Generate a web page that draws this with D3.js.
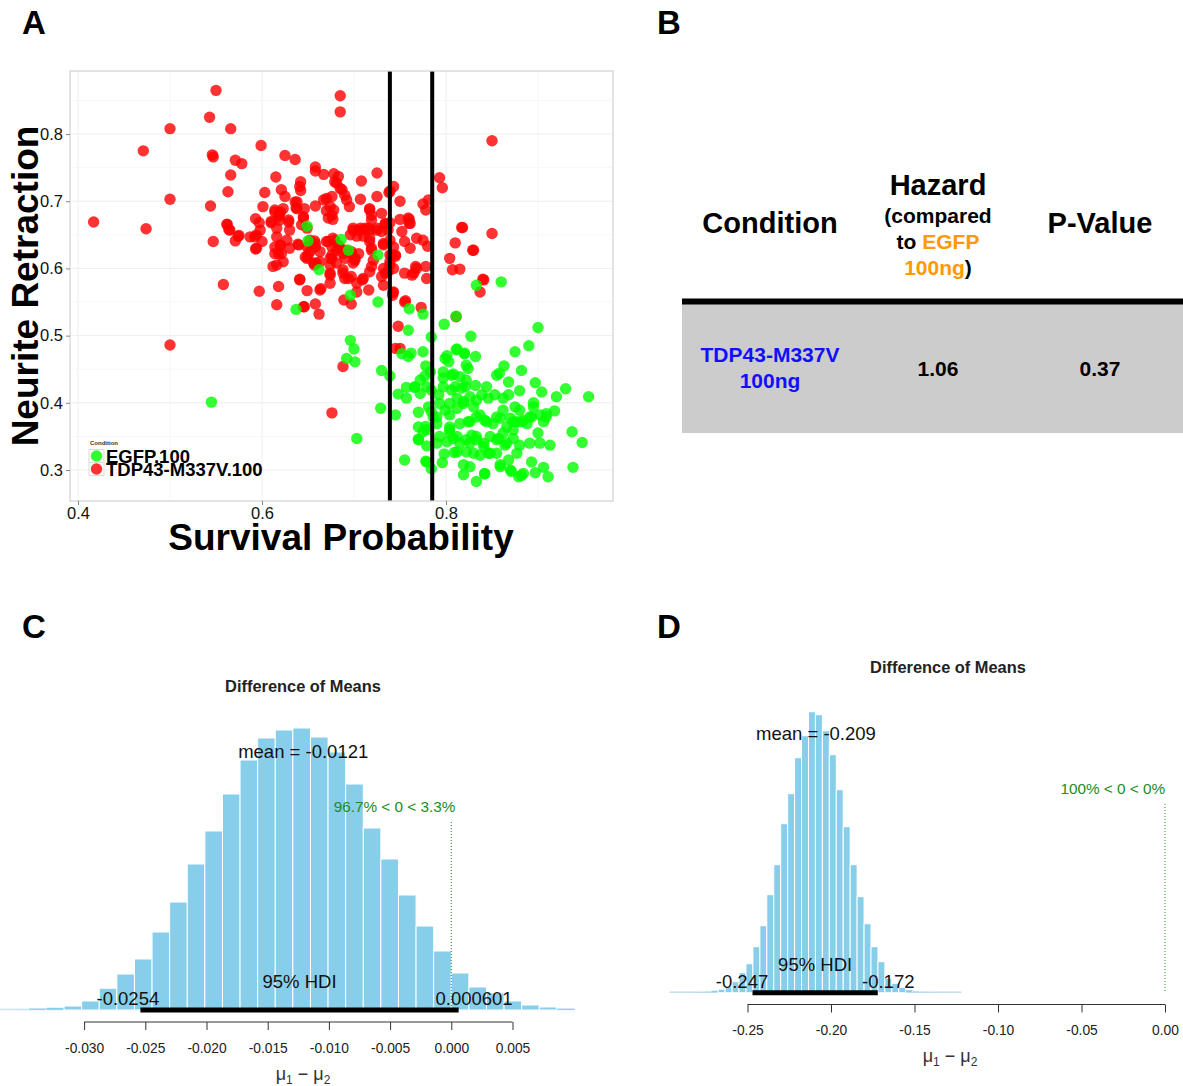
<!DOCTYPE html>
<html lang="en">
<head>
<meta charset="utf-8"/>
<title>Survival / neurite retraction figure</title>
<script src="https://cdn.jsdelivr.net/npm/d3@7/dist/d3.min.js"></script>
<style>
  body { margin: 0; background: #fff; }
  svg { font-family: "Liberation Sans", Arial, Helvetica, sans-serif; }
</style>
</head>
<body>
<div id="fig"></div>
<script>
// ---------- panel A data (survival probability, neurite retraction) ----------
const redPts = [
 [0.550,0.865],[0.543,0.825],[0.500,0.808],[0.566,0.808],[0.471,0.775],[0.599,0.783],[0.546,0.769],[0.547,0.766],[0.571,0.761],[0.578,0.756],
 [0.625,0.768],[0.636,0.762],[0.566,0.739],[0.500,0.703],[0.563,0.714],[0.417,0.669],[0.474,0.659],[0.544,0.693],[0.547,0.640],[0.562,0.666],
 [0.564,0.658],[0.575,0.649],[0.571,0.641],[0.587,0.647],[0.594,0.650],[0.598,0.657],[0.600,0.640],[0.593,0.629],[0.615,0.736],[0.603,0.713],
 [0.601,0.692],[0.621,0.717],[0.625,0.707],[0.593,0.674],[0.597,0.668],[0.610,0.668],[0.614,0.684],[0.619,0.680],[0.619,0.672],[0.616,0.660],
 [0.629,0.669],[0.630,0.657],[0.642,0.729],[0.641,0.722],[0.642,0.716],[0.638,0.699],[0.637,0.690],[0.646,0.689],[0.645,0.677],[0.658,0.751],
 [0.658,0.745],[0.667,0.740],[0.658,0.693],[0.667,0.702],[0.670,0.704],[0.676,0.707],[0.670,0.686],[0.676,0.679],[0.678,0.741],[0.683,0.737],
 [0.685,0.857],[0.685,0.833],[0.639,0.636],[0.627,0.642],[0.616,0.647],[0.620,0.635],[0.618,0.622],[0.614,0.622],[0.630,0.630],[0.641,0.584],
 [0.649,0.615],[0.652,0.625],[0.658,0.632],[0.663,0.625],[0.657,0.641],[0.672,0.640],[0.679,0.642],[0.683,0.635],[0.676,0.620],[0.663,0.610],
 [0.674,0.605],[0.657,0.605],[0.558,0.576],[0.597,0.566],[0.618,0.573],[0.616,0.546],[0.649,0.567],[0.664,0.570],[0.646,0.543],[0.658,0.547],
 [0.662,0.532],[0.500,0.486],[0.676,0.385],[0.688,0.454],[0.850,0.790],[0.793,0.735],[0.796,0.720],[0.818,0.661],[0.850,0.652],[0.810,0.638],
 [0.829,0.627],[0.804,0.615],[0.807,0.598],[0.815,0.599],[0.840,0.584],[0.725,0.742],[0.708,0.730],[0.743,0.722],[0.738,0.713],[0.725,0.707],
 [0.707,0.703],[0.750,0.700],[0.775,0.696],[0.781,0.702],[0.778,0.687],[0.679,0.729],[0.685,0.719],[0.690,0.709],[0.692,0.702],[0.695,0.692],
 [0.717,0.689],[0.719,0.679],[0.730,0.682],[0.750,0.673],[0.760,0.673],[0.760,0.667],[0.734,0.666],[0.739,0.668],[0.699,0.657],[0.705,0.657],
 [0.710,0.657],[0.716,0.660],[0.725,0.657],[0.730,0.655],[0.717,0.640],[0.719,0.627],[0.732,0.635],[0.752,0.655],[0.755,0.640],[0.761,0.630],
 [0.768,0.645],[0.775,0.642],[0.780,0.633],[0.739,0.620],[0.745,0.620],[0.739,0.605],[0.717,0.595],[0.734,0.593],[0.755,0.593],[0.763,0.590],
 [0.768,0.600],[0.778,0.603],[0.779,0.585],[0.674,0.593],[0.690,0.585],[0.710,0.585],[0.656,0.608],[0.676,0.615],[0.688,0.598],[0.696,0.650],
 [0.703,0.648],[0.710,0.648],[0.697,0.625],[0.701,0.612],[0.705,0.622],[0.721,0.612],[0.685,0.630],[0.681,0.727],[0.739,0.715],[0.687,0.717],
 [0.674,0.692],[0.678,0.687],[0.636,0.699],[0.638,0.689],[0.672,0.675],[0.677,0.673],[0.645,0.675],[0.643,0.665],[0.649,0.660],[0.614,0.687],
 [0.620,0.684],[0.618,0.677],[0.623,0.689],[0.629,0.672],[0.610,0.670],[0.562,0.665],[0.565,0.657],[0.574,0.648],[0.592,0.647],[0.594,0.630],
 [0.614,0.632],[0.620,0.634],[0.621,0.622],[0.640,0.635],[0.649,0.632],[0.652,0.642],[0.658,0.637],[0.650,0.620],[0.647,0.617],[0.659,0.608],
 [0.670,0.640],[0.677,0.645],[0.676,0.632],[0.681,0.627],[0.688,0.622],[0.692,0.627],[0.674,0.615],[0.681,0.608],[0.690,0.615],[0.697,0.622],
 [0.701,0.615],[0.699,0.608],[0.699,0.660],[0.707,0.660],[0.712,0.660],[0.717,0.657],[0.725,0.660],[0.737,0.657],[0.734,0.667],[0.717,0.687],
 [0.719,0.672],[0.717,0.645],[0.719,0.630],[0.732,0.637],[0.739,0.642],[0.743,0.632],[0.741,0.620],[0.745,0.618],[0.739,0.610],[0.743,0.600],
 [0.732,0.600],[0.737,0.595],[0.719,0.603],[0.730,0.588],[0.732,0.575],[0.759,0.675],[0.761,0.667],[0.767,0.603],[0.765,0.593],[0.743,0.565],
 [0.742,0.560],[0.755,0.550],[0.773,0.542],[0.748,0.514],[0.709,0.583],[0.703,0.578],[0.716,0.568],[0.688,0.593],[0.694,0.585],[0.697,0.588],
 [0.674,0.590],[0.674,0.578],[0.663,0.568],[0.641,0.583],[0.645,0.543],[0.689,0.553],[0.697,0.547],[0.703,0.565],[0.616,0.605],[0.623,0.610],
 [0.612,0.603],[0.837,0.565],[0.841,0.583],[0.817,0.661],[0.830,0.627],[0.811,0.528],[0.745,0.481],[0.750,0.481],[0.756,0.552],[0.742,0.564]
];
const greenPts = [
 [0.649,0.663],[0.650,0.641],[0.662,0.598],[0.686,0.643],[0.694,0.627],[0.726,0.620],[0.637,0.539],[0.545,0.401],[0.860,0.580],[0.833,0.575],
 [0.696,0.560],[0.726,0.550],[0.760,0.540],[0.775,0.532],[0.811,0.529],[0.798,0.517],[0.759,0.508],[0.784,0.498],[0.827,0.499],[0.900,0.512],
 [0.696,0.493],[0.700,0.480],[0.692,0.466],[0.701,0.461],[0.752,0.473],[0.759,0.469],[0.762,0.474],[0.775,0.476],[0.801,0.470],[0.803,0.461],
 [0.812,0.480],[0.820,0.473],[0.832,0.469],[0.822,0.456],[0.824,0.451],[0.875,0.476],[0.890,0.485],[0.730,0.448],[0.739,0.440],[0.778,0.455],
 [0.783,0.446],[0.797,0.446],[0.808,0.443],[0.815,0.439],[0.822,0.434],[0.821,0.424],[0.832,0.426],[0.863,0.455],[0.855,0.441],[0.858,0.444],
 [0.868,0.431],[0.882,0.448],[0.897,0.430],[0.930,0.421],[0.955,0.409],[0.920,0.409],[0.904,0.416],[0.880,0.418],[0.748,0.413],[0.757,0.423],
 [0.757,0.407],[0.766,0.423],[0.772,0.414],[0.784,0.419],[0.792,0.412],[0.797,0.424],[0.806,0.419],[0.812,0.407],[0.804,0.399],[0.819,0.402],
 [0.830,0.394],[0.839,0.412],[0.844,0.424],[0.846,0.407],[0.853,0.412],[0.862,0.407],[0.868,0.412],[0.875,0.394],[0.880,0.389],[0.895,0.400],
 [0.902,0.382],[0.909,0.384],[0.918,0.388],[0.729,0.392],[0.745,0.382],[0.770,0.386],[0.781,0.394],[0.784,0.387],[0.790,0.379],[0.770,0.364],
 [0.778,0.365],[0.775,0.357],[0.804,0.364],[0.815,0.369],[0.824,0.372],[0.833,0.379],[0.842,0.374],[0.851,0.369],[0.859,0.377],[0.866,0.364],
 [0.873,0.372],[0.882,0.372],[0.888,0.369],[0.893,0.379],[0.906,0.372],[0.909,0.379],[0.703,0.347],[0.770,0.346],[0.779,0.336],[0.790,0.340],
 [0.793,0.350],[0.804,0.355],[0.812,0.350],[0.815,0.340],[0.822,0.345],[0.828,0.352],[0.833,0.350],[0.841,0.340],[0.848,0.350],[0.857,0.347],
 [0.864,0.337],[0.873,0.347],[0.880,0.337],[0.891,0.340],[0.900,0.355],[0.902,0.340],[0.913,0.337],[0.937,0.357],[0.948,0.341],[0.755,0.315],
 [0.778,0.313],[0.784,0.302],[0.796,0.311],[0.798,0.324],[0.809,0.326],[0.819,0.293],[0.833,0.283],[0.842,0.294],[0.859,0.305],[0.870,0.300],
 [0.879,0.290],[0.884,0.295],[0.893,0.312],[0.897,0.296],[0.906,0.304],[0.911,0.290],[0.938,0.304],[0.812,0.327],[0.822,0.327],[0.837,0.322],
 [0.846,0.325],[0.855,0.325],[0.868,0.315],[0.877,0.325],[0.779,0.312],[0.766,0.424],[0.779,0.424],[0.777,0.440],[0.772,0.434],[0.779,0.360],
 [0.770,0.345],[0.811,0.479],[0.820,0.474],[0.799,0.466],[0.797,0.437],[0.806,0.441],[0.810,0.424],[0.817,0.422],[0.826,0.409],[0.833,0.404],
 [0.819,0.399],[0.812,0.392],[0.804,0.382],[0.826,0.372],[0.837,0.382],[0.844,0.372],[0.855,0.379],[0.862,0.389],[0.870,0.377],[0.877,0.372],
 [0.873,0.360],[0.862,0.355],[0.855,0.345],[0.866,0.340],[0.884,0.374],[0.891,0.379],[0.895,0.394],[0.826,0.340],[0.833,0.345],[0.841,0.335],
 [0.848,0.325],[0.830,0.325],[0.804,0.360],[0.808,0.347],[0.801,0.342],[0.786,0.379],[0.790,0.369],[0.819,0.308],[0.826,0.305],[0.842,0.295],
 [0.859,0.308],[0.871,0.298],[0.882,0.292],[0.793,0.399],[0.799,0.389]
];
const cutoffs = [0.739, 0.785];
const xTicksA = [0.4, 0.6, 0.8];
const yTicksA = [0.3, 0.4, 0.5, 0.6, 0.7, 0.8];
const legendA = [["EGFP.100", "#00ff00"], ["TDP43-M337V.100", "#ff0000"]];

// ---------- panel B table ----------
const tableRow = { condition: ["TDP43-M337V", "100ng"], hazard: "1.06", pvalue: "0.37" };

// ---------- panels C and D: posterior of difference of means ----------
const binStartC = -0.03739, binWidthC = 0.001438;
const countsC = [4,8,17,23,40,90,217,360,510,780,1080,1460,1790,2160,2500,2720,2800,2820,2730,2580,
                 2260,1820,1510,1150,840,590,370,230,170,90,50,30,15];
const hdiC = [-0.0254, 0.000601], meanC = -0.0121, pctC = "96.7% < 0 < 3.3%", pctAdjC = 0.967;
const xTicksC = [-0.030, -0.025, -0.020, -0.015, -0.010, -0.005, 0.000, 0.005];

const binStartD = -0.29668, binWidthD = 0.00416;
const countsD = [3,3,4,5,8,12,20,35,60,110,200,290,460,670,980,1280,1690,1990,2350,2570,2810,2780,
                 2620,2380,2030,1660,1280,960,690,460,310,144,94,54,27,15,10,7,5,4,3,3];
const hdiD = [-0.247, -0.172], meanD = -0.209, pctD = "100% < 0 < 0%", pctAdjD = 1.0;
const xTicksD = [-0.25, -0.20, -0.15, -0.10, -0.05, 0.00];

const svg = d3.select("#fig").append("svg")
  .attr("width", 1183).attr("height", 1086);

// panel letters
[["A", 22, 34], ["B", 657, 34], ["C", 22, 638], ["D", 657, 638]].forEach(([t, x, y]) => {
  svg.append("text").attr("x", x).attr("y", y).attr("font-size", 33)
    .attr("font-weight", "bold").text(t);
});

// R style numbers: plain hyphen for minus
const hyph = f => d => f(d).replace("\u2212", "-");

// ================= Panel A =================
(function panelA() {
  const left = 70, right = 613, top = 71, bottom = 501;
  const x = d3.scaleLinear().domain([0.3913, 0.9815]).range([left, right]);
  const y = d3.scaleLinear().domain([0.2539, 0.8938]).range([bottom, top]);
  const g = svg.append("g");

  // grid
  const minorX = [0.5, 0.7, 0.9], minorY = [0.35, 0.45, 0.55, 0.65, 0.75, 0.85];
  g.selectAll(".mgx").data(minorX).enter().append("line")
    .attr("x1", d => x(d)).attr("x2", d => x(d)).attr("y1", top).attr("y2", bottom)
    .attr("stroke", "#f7f7f7");
  g.selectAll(".mgy").data(minorY).enter().append("line")
    .attr("y1", d => y(d)).attr("y2", d => y(d)).attr("x1", left).attr("x2", right)
    .attr("stroke", "#f7f7f7");
  g.selectAll(".gx").data(xTicksA).enter().append("line")
    .attr("x1", d => x(d)).attr("x2", d => x(d)).attr("y1", top).attr("y2", bottom)
    .attr("stroke", "#eeeeee");
  g.selectAll(".gy").data(yTicksA).enter().append("line")
    .attr("y1", d => y(d)).attr("y2", d => y(d)).attr("x1", left).attr("x2", right)
    .attr("stroke", "#eeeeee");

  // points: red first, green on top
  g.selectAll(".red").data(redPts).enter().append("circle")
    .attr("cx", d => x(d[0])).attr("cy", d => y(d[1])).attr("r", 5.7)
    .attr("fill", "#ff0000").attr("fill-opacity", 0.8);
  g.selectAll(".grn").data(greenPts).enter().append("circle")
    .attr("cx", d => x(d[0])).attr("cy", d => y(d[1])).attr("r", 5.7)
    .attr("fill", "#00ff00").attr("fill-opacity", 0.8);

  // cutoff lines
  g.selectAll(".cut").data(cutoffs).enter().append("line")
    .attr("x1", d => x(d)).attr("x2", d => x(d)).attr("y1", top).attr("y2", bottom)
    .attr("stroke", "#000").attr("stroke-width", 4);

  // border
  g.append("rect").attr("x", left).attr("y", top)
    .attr("width", right - left).attr("height", bottom - top)
    .attr("fill", "none").attr("stroke", "#d4d4d4").attr("stroke-width", 1.3);

  // axes
  const xa = g.append("g").attr("transform", `translate(0,${bottom})`)
    .call(d3.axisBottom(x).tickValues(xTicksA).tickFormat(d3.format(".1f")).tickSize(4).tickPadding(2));
  const ya = g.append("g").attr("transform", `translate(${left},0)`)
    .call(d3.axisLeft(y).tickValues(yTicksA).tickFormat(d3.format(".1f")).tickSize(4).tickPadding(3));
  [xa, ya].forEach(a => {
    a.select(".domain").remove();
    a.selectAll(".tick line").attr("stroke", "#888");
    a.selectAll(".tick text").attr("font-size", 16.5).attr("fill", "#111")
      .attr("font-family", "Liberation Sans, Arial, sans-serif");
  });

  g.append("text").attr("x", 341).attr("y", 550).attr("text-anchor", "middle")
    .attr("font-size", 37).attr("font-weight", "bold").text("Survival Probability");
  g.append("text").attr("transform", "translate(38,286) rotate(-90)").attr("text-anchor", "middle")
    .attr("font-size", 37).attr("font-weight", "bold").text("Neurite Retraction");

  // legend
  g.append("text").attr("x", 90).attr("y", 445).attr("font-size", 6)
    .attr("font-weight", "bold").attr("fill", "#333").text("Condition");
  legendA.forEach(([lab, col], i) => {
    const cy = 456 + i * 13;
    g.append("rect").attr("x", 89).attr("y", cy - 6.5).attr("width", 15).attr("height", 13)
      .attr("fill", "#fafafa").attr("stroke", "#dddddd");
    g.append("circle").attr("cx", 96.5).attr("cy", cy).attr("r", 5.7)
      .attr("fill", col).attr("fill-opacity", 0.8);
    g.append("text").attr("x", 106).attr("y", cy + 7).attr("font-size", 18.5)
      .attr("font-weight", "bold").text(lab);
  });
})();

// ================= Panel B =================
(function panelB() {
  const g = svg.append("g").attr("font-weight", "bold");
  const cx = [770, 938, 1100];
  g.append("text").attr("x", cx[0]).attr("y", 233).attr("text-anchor", "middle")
    .attr("font-size", 29).text("Condition");
  g.append("text").attr("x", cx[1]).attr("y", 195).attr("text-anchor", "middle")
    .attr("font-size", 29).text("Hazard");
  g.append("text").attr("x", cx[1]).attr("y", 223).attr("text-anchor", "middle")
    .attr("font-size", 21).text("(compared");
  const t2 = g.append("text").attr("x", cx[1]).attr("y", 249).attr("text-anchor", "middle")
    .attr("font-size", 21);
  t2.append("tspan").text("to ");
  t2.append("tspan").attr("fill", "#ff9900").text("EGFP");
  const t3 = g.append("text").attr("x", cx[1]).attr("y", 275).attr("text-anchor", "middle")
    .attr("font-size", 21);
  t3.append("tspan").attr("fill", "#ff9900").text("100ng");
  t3.append("tspan").text(")");
  g.append("text").attr("x", cx[2]).attr("y", 233).attr("text-anchor", "middle")
    .attr("font-size", 29).text("P-Value");

  g.append("rect").attr("x", 682).attr("y", 304).attr("width", 501).attr("height", 129)
    .attr("fill", "#cccccc");
  g.append("rect").attr("x", 682).attr("y", 298.5).attr("width", 501).attr("height", 6)
    .attr("fill", "#000");

  tableRow.condition.forEach((t, i) => {
    g.append("text").attr("x", cx[0]).attr("y", 362 + i * 26).attr("text-anchor", "middle")
      .attr("font-size", 21).attr("fill", "#1010ff").text(t);
  });
  g.append("text").attr("x", cx[1]).attr("y", 376).attr("text-anchor", "middle")
    .attr("font-size", 21).text(tableRow.hazard);
  g.append("text").attr("x", cx[2]).attr("y", 376).attr("text-anchor", "middle")
    .attr("font-size", 21).text(tableRow.pvalue);
})();

// ================= Panels C, D =================
function posterior(o) {
  const g = svg.append("g");
  const x = d3.scaleLinear().domain(o.xDomain).range(o.xRange);
  const y = d3.scaleLinear().domain([0, 100]).range([o.base, o.base - 10]);
  const bins = o.counts.map((c, i) => ({ x0: o.binStart + i * o.binWidth, x1: o.binStart + (i + 1) * o.binWidth, c }));

  g.append("text").attr("x", o.titleX).attr("y", o.titleY).attr("text-anchor", "middle")
    .attr("font-size", 16.4).attr("font-weight", "bold").attr("fill", "#222").text("Difference of Means");

  // faint tail line under the bars
  g.append("line").attr("x1", x(bins[0].x0)).attr("x2", x(bins[bins.length - 1].x1))
    .attr("y1", o.base - 0.5).attr("y2", o.base - 0.5)
    .attr("stroke", "#c4d6de").attr("stroke-width", 1.5);

  g.selectAll("rect.bar").data(bins).enter().append("rect")
    .attr("x", d => x(d.x0)).attr("width", d => x(d.x1) - x(d.x0))
    .attr("y", d => y(d.c)).attr("height", d => o.base - y(d.c))
    .attr("fill", "#87ceeb").attr("stroke", "#ffffff")
    .attr("stroke-width", d => (o.base - y(d.c)) < 3 ? 0.3 : 1);

  // comparison value
  g.append("line").attr("x1", x(0)).attr("x2", x(0)).attr("y1", o.compTop).attr("y2", o.base)
    .attr("stroke", "#228b22").attr("stroke-dasharray", "1,2").attr("stroke-width", 1);
  const pt = g.append("text").attr("y", o.compTop - 10).attr("font-size", 15.3)
    .attr("fill", "#228b22").text(o.pct);
  const pw = pt.node().getComputedTextLength();
  pt.attr("x", x(0) - o.pctAdj * pw);

  // HDI
  g.append("line").attr("x1", x(o.hdi[0])).attr("x2", x(o.hdi[1])).attr("y1", o.base).attr("y2", o.base)
    .attr("stroke", "#000").attr("stroke-width", 5);
  const fmt = o.fmt;
  const l0 = g.append("text").attr("y", o.base - 5).attr("font-size", 18.5).attr("fill", "#111").text(fmt(o.hdi[0]));
  l0.attr("x", x(o.hdi[0]) - 0.7 * l0.node().getComputedTextLength());
  const l1 = g.append("text").attr("y", o.base - 5).attr("font-size", 18.5).attr("fill", "#111").text(fmt(o.hdi[1]));
  l1.attr("x", x(o.hdi[1]) - 0.3 * l1.node().getComputedTextLength());
  g.append("text").attr("x", (x(o.hdi[0]) + x(o.hdi[1])) / 2).attr("y", o.base - 22)
    .attr("text-anchor", "middle").attr("font-size", 18.5).attr("fill", "#111").text("95% HDI");
  g.append("text").attr("x", x(o.mean)).attr("y", o.meanY).attr("text-anchor", "middle")
    .attr("font-size", 18.5).attr("fill", "#111").text("mean = " + fmt(o.mean));

  // axis
  const ax = g.append("g").attr("transform", `translate(0,${o.axisY})`)
    .call(d3.axisBottom(x).tickValues(o.ticks).tickFormat(hyph(o.tickFmt)).tickSize(8).tickPadding(13));
  ax.select(".domain").attr("stroke", "#333").attr("d", `M${x(o.ticks[0])},0H${x(o.ticks[o.ticks.length - 1])}`);
  ax.selectAll(".tick line").attr("stroke", "#333");
  ax.selectAll(".tick text").attr("font-size", 13.8).attr("fill", "#222")
    .attr("font-family", "Liberation Sans, Arial, sans-serif");

  const xl = g.append("text").attr("x", o.labelX).attr("y", o.labelY).attr("text-anchor", "middle")
    .attr("font-size", 18).attr("fill", "#333");
  xl.append("tspan").text("\u03bc");
  xl.append("tspan").attr("font-size", 12).attr("dy", 4).text("1");
  xl.append("tspan").attr("dy", -4).text(" \u2212 \u03bc");
  xl.append("tspan").attr("font-size", 12).attr("dy", 4).text("2");
}

posterior({
  xDomain: [0, 0.005], xRange: [451.3, 512.5], base: 1010,
  binStart: binStartC, binWidth: binWidthC, counts: countsC,
  hdi: hdiC, mean: meanC, meanY: 758, pct: pctC, pctAdj: pctAdjC, compTop: 822,
  ticks: xTicksC, tickFmt: d3.format(".3f"), fmt: d => String(+d.toPrecision(3)),
  axisY: 1022, titleX: 303, titleY: 692, labelX: 303, labelY: 1080
});
posterior({
  xDomain: [0, -0.05], xRange: [1165, 1081.5], base: 992.7,
  binStart: binStartD, binWidth: binWidthD, counts: countsD,
  hdi: hdiD, mean: meanD, meanY: 740, pct: pctD, pctAdj: pctAdjD, compTop: 804,
  ticks: xTicksD, tickFmt: d3.format(".2f"), fmt: d => String(+d.toPrecision(3)),
  axisY: 1004.5, titleX: 948, titleY: 673, labelX: 950, labelY: 1062
});
</script>
</body>
</html>
